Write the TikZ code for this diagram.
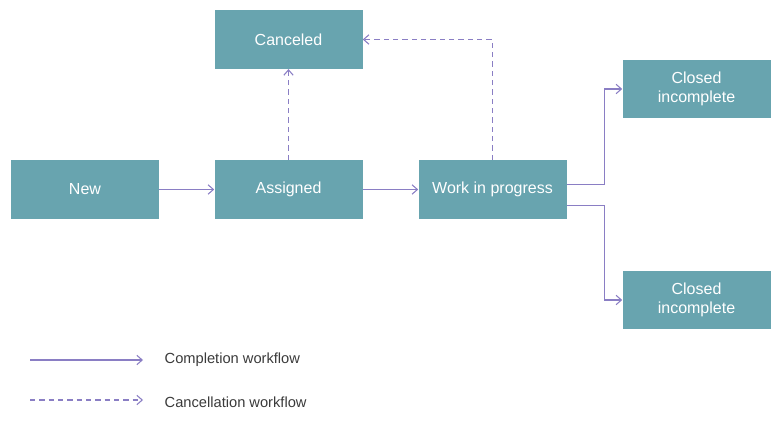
\documentclass[tikz,border=0pt]{standalone}
\usepackage{fontspec}
\setmainfont{Liberation Sans}
\usetikzlibrary{arrows.meta}
\definecolor{boxteal}{HTML}{68A4AF}
\definecolor{flowviolet}{HTML}{8A7EC4}
\definecolor{legendgray}{HTML}{3A3A3A}
\tikzset{
  state/.style={draw=none,fill=boxteal,text=white,minimum width=111pt,minimum height=44pt,
    inner sep=0pt,align=center,font=\fontsize{12}{14}\selectfont},
  done/.style={draw=flowviolet,line width=0.8pt,-{Straight Barb[length=4pt,width=7pt]}},
  cancel/.style={done,dash pattern=on 4pt off 3pt},
  legend/.style={anchor=west,text=legendgray,font=\fontsize{11}{13}\selectfont}
}
\begin{document}
\begin{tikzpicture}[x=0.75pt,y=-0.75pt]
    \useasboundingbox (0,0) rectangle (781,427);
    \node[state] (new) at (85,189.5) {New};
    \node[state] (assigned) at (288.5,189.5) {Assigned};
    \node[state] (canceled) at (288.5,39.5) {Canceled};
    \node[state] (wip) at (492.5,189.5) {Work in progress};
    \node[state] (closedA) at (696.5,89) {Closed\\incomplete};
    \node[state] (closedB) at (696.5,300) {Closed\\incomplete};
    \draw[done] (new) -- (assigned);
    \draw[done] (assigned) -- (wip);
    \draw[cancel] (assigned) -- (canceled);
    \draw[cancel] (wip.north) |- (canceled.east);
    \draw[done] ([yshift=4pt]wip.east) -| ++(28pt,0) |- (closedA.west);
    \draw[done] ([yshift=-12pt]wip.east) -| ++(28pt,0) |- (closedB.west);
    % legend
    \coordinate (solidA) at (30,360);
    \coordinate (solidB) at (143,360);
    \coordinate (dashA) at (30,400);
    \coordinate (dashB) at (143,400);
    \draw[done] (solidA) -- (solidB);
    \draw[cancel] (dashA) -- (dashB);
    \node[legend] (solidtext) at (160,360) {Completion workflow};
    \node[legend] (dashtext) at (160,402) {Cancellation workflow};
\end{tikzpicture}
\end{document}
